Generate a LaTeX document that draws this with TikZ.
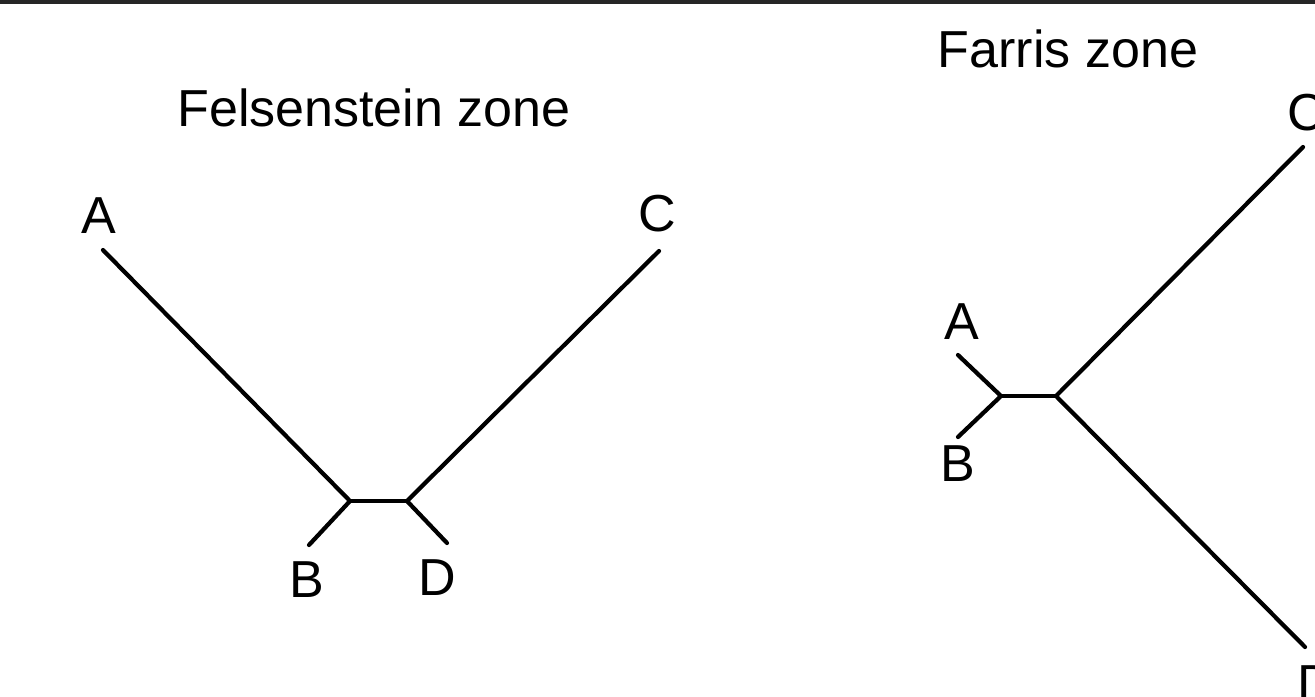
\documentclass[tikz,border=0pt]{standalone}
\usepackage{fontspec}
\setmainfont{Liberation Sans}
\usepackage{tikz}
\usetikzlibrary{positioning}

\begin{document}
\begin{tikzpicture}[
    x=0.01cm, y=-0.01cm,
    font=\fontsize{14.8}{17}\selectfont,
    branch/.style={line width=1.2pt, line cap=round},
    taxon/.style={inner sep=0pt},
    zonetitle/.style={inner sep=0pt}
]
\clip (0,0) rectangle (1315,696);
\fill[white] (0,0) rectangle (1315,696);
\fill[black!85] (0,0) rectangle (1315,4);
% ----- Felsenstein zone -----
\node[zonetitle] (ftitle) at (374,108) {Felsenstein zone};
\coordinate (fl) at (350,501);
\coordinate (fr) at (407,501);
\coordinate (fAe) at (103,250);
\coordinate (fBe) at (309,545);
\coordinate (fCe) at (659,251);
\coordinate (fDe) at (447,543);
\node[taxon] (fA) at (99,216) {A};
\node[taxon] (fB) at (307,580) {B};
\node[taxon] (fC) at (657,214) {C};
\node[taxon] (fD) at (437,578) {D};
\draw[branch] (fAe) -- (fl) -- (fBe);
\draw[branch] (fl) -- (fr);
\draw[branch] (fCe) -- (fr) -- (fDe);
% ----- Farris zone -----
\node[zonetitle] (rtitle) at (1068,49) {Farris zone};
\coordinate (rl) at (1001,396);
\coordinate (rr) at (1056,396);
\coordinate (rAe) at (958,355);
\coordinate (rBe) at (958,437);
\coordinate (rCe) at (1303,147);
\coordinate (rDe) at (1305,647);
\node[taxon] (rA) at (962,322) {A};
\node[taxon] (rB) at (958,464) {B};
\node[taxon] (rC) at (1306,113) {C};
\node[taxon] (rD) at (1316,684) {D};
\draw[branch] (rAe) -- (rl) -- (rBe);
\draw[branch] (rl) -- (rr);
\draw[branch] (rCe) -- (rr) -- (rDe);
\end{tikzpicture}
\end{document}
